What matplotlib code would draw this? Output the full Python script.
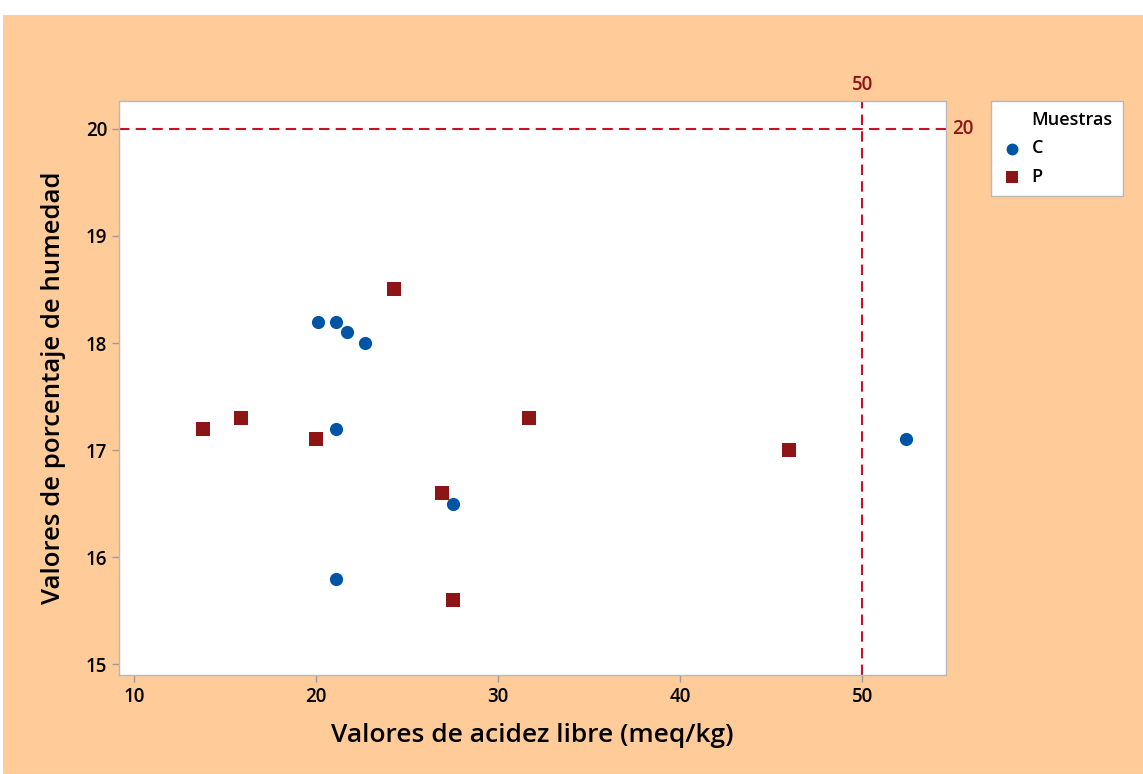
import matplotlib
matplotlib.use("Agg")
import matplotlib.pyplot as plt
from matplotlib.patches import Rectangle
from matplotlib.lines import Line2D

plt.rcParams['font.family'] = ['Open Sans', 'DejaVu Sans']

# Data
c_acidez = [20.1, 21.1, 21.7, 22.7, 21.1, 27.5, 21.1, 52.4]
c_humedad = [18.2, 18.2, 18.1, 18.0, 17.2, 16.5, 15.8, 17.1]
p_acidez = [24.3, 13.8, 15.9, 20.0, 26.9, 27.5, 31.7, 46.0]
p_humedad = [18.5, 17.2, 17.3, 17.1, 16.6, 15.6, 17.3, 17.0]
x_ticks = [10, 20, 30, 40, 50]
y_ticks = [15, 16, 17, 18, 19, 20]
ref_x = 50
ref_y = 20

bg = '#FECB99'
blue = '#0054A6'
red = '#8E1515'
refc = '#C8102E'

W, H = 1143, 774
fig = plt.figure(figsize=(W/100, H/100), dpi=100, facecolor='white')
fig.patches.append(Rectangle((3/W, 0), 1, 1 - 15/H, transform=fig.transFigure,
                             facecolor=bg, edgecolor='#d8d8d8', lw=0.8, zorder=-10))

ax = fig.add_axes([119/W, 1 - 675/H, (946-119)/W, (675-101)/H])
ax.set_facecolor('white')
sc_c = ax.scatter(c_acidez, c_humedad, s=90, marker='o', color=blue, label='C', zorder=3, linewidths=0)
sc_p = ax.scatter(p_acidez, p_humedad, s=90, marker='s', color=red, label='P', zorder=3, linewidths=0)

ax.axvline(ref_x, color=refc, ls=(0, (5, 3)), lw=1.5, zorder=2)
ax.axhline(ref_y, color=refc, ls=(0, (5, 3)), lw=1.5, zorder=2)

ax.set_xlim(9.18, 54.6)
ax.set_ylim(14.9, 20.26)
ax.set_xticks(x_ticks)
ax.set_yticks(y_ticks)
ax.tick_params(axis='both', direction='out', length=5, color='#9a9a9a', labelsize=13.5,
               labelcolor='black', width=1)
for lbl in ax.get_xticklabels() + ax.get_yticklabels():
    lbl.set_fontweight('semibold')
for sp in ax.spines.values():
    sp.set_color('#b8b8b8')
    sp.set_linewidth(1)

ax.set_xlabel('Valores de acidez libre (meq/kg)', fontsize=19, fontweight='semibold', labelpad=12)
ax.set_ylabel('Valores de porcentaje de humedad', fontsize=18.5, fontweight='semibold', labelpad=14)

ax.text(ref_x, 1.01, str(ref_x), transform=ax.get_xaxis_transform(), ha='center', va='bottom',
        color=red, fontsize=13.5, fontweight='semibold', clip_on=False)
ax.text(1.008, ref_y, str(ref_y), transform=ax.get_yaxis_transform(), ha='left', va='center',
        color=red, fontsize=13.5, fontweight='semibold', clip_on=False)

title_handle = Line2D([], [], linestyle='none', marker=None)
leg = fig.legend([title_handle, sc_c, sc_p], ['Muestras', 'C', 'P'],
                 loc='upper left', bbox_to_anchor=(991/W, 1 - 101/H),
                 frameon=True, fancybox=False, edgecolor='#b8b8b8', fontsize=13,
                 handletextpad=0.5, borderpad=0.55, markerscale=0.9,
                 framealpha=1, facecolor='white', handlelength=1.2,
                 borderaxespad=0, labelspacing=0.58)
leg.get_frame().set_linewidth(1)
for t in leg.get_texts():
    t.set_fontweight('semibold')

fig.savefig('out.png', dpi=100, facecolor=fig.get_facecolor())
